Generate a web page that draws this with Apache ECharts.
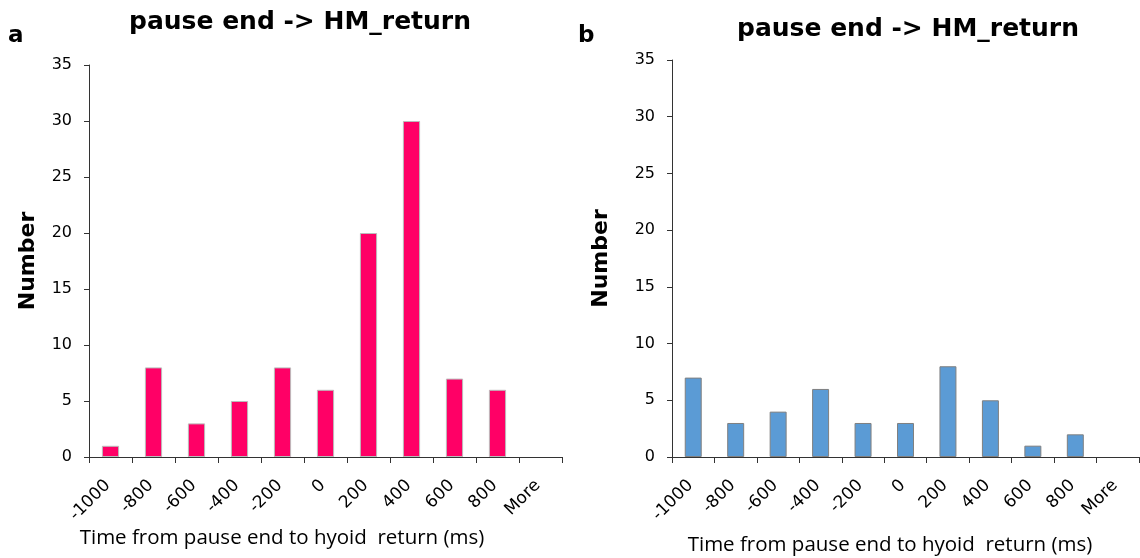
<!DOCTYPE html>
<html><head><meta charset="utf-8">
<script src="https://cdn.jsdelivr.net/npm/echarts@6/dist/echarts.min.js"></script>
<style>html,body{margin:0;padding:0;background:#fff}#c{width:1140px;height:558px}</style>
</head><body><div id="c"></div>
<script>
const categories = ['-1000','-800','-600','-400','-200','0','200','400','600','800','More'];
const valuesA = [1,8,3,5,8,6,20,30,7,6,0];
const valuesB = [7,3,4,6,3,3,8,5,1,2,0];
const yMax = 35, yStep = 5;
const titleText = 'pause end -> HM_return';
const xName = 'Time from pause end to hyoid  return (ms)';
const yName = 'Number';

const chart = echarts.init(document.getElementById('c'), null, {renderer:'canvas'});
const axisCol = '#333';
const xAxisBase = (gi) => ({
  type:'category', gridIndex:gi, data:categories,
  axisLine:{lineStyle:{color:axisCol,width:1}},
  axisTick:{show:true,alignWithLabel:false,length:6,lineStyle:{color:axisCol}},
  axisLabel:{rotate:45,fontSize:17,color:'#000',fontFamily:'DejaVu Sans',margin:23,padding:[0,4,0,0],interval:0}
});
const yAxisBase = (gi) => ({
  type:'value', gridIndex:gi, min:0, max:yMax, interval:yStep,
  splitLine:{show:false},
  axisLine:{show:true,lineStyle:{color:axisCol,width:1}},
  axisTick:{show:true,length:5,lineStyle:{color:axisCol}},
  axisLabel:{fontSize:16,color:'#000',fontFamily:'DejaVu Sans',margin:17}
});
const toBars = (arr) => arr.map(v => v === 0 ? {value:v,itemStyle:{opacity:0}} : v);
const titleStyle = {fontSize:25,fontWeight:'bold',fontFamily:'DejaVu Sans',color:'#000'};
const xNameStyle = {fontSize:20.5,fontWeight:'normal',fontFamily:'Open Sans',color:'#000'};
chart.setOption({
  animation:false,
  title:[
    {text:titleText,left:295,top:5,textAlign:'center',textStyle:titleStyle},
    {text:titleText,left:903,top:12,textAlign:'center',textStyle:titleStyle},
    {text:'a',left:3,top:20,textStyle:{fontSize:23,fontWeight:'bold',fontFamily:'DejaVu Sans',color:'#000'}},
    {text:'b',left:573,top:20,textStyle:{fontSize:23,fontWeight:'bold',fontFamily:'DejaVu Sans',color:'#000'}},
    {text:xName,left:277,top:523,textAlign:'center',textStyle:xNameStyle},
    {text:xName,left:885,top:530,textAlign:'center',textStyle:xNameStyle}
  ],
  grid:[
    {left:89,top:65,width:473,height:392},
    {left:672,top:60,width:467,height:397}
  ],
  xAxis:[xAxisBase(0),xAxisBase(1)],
  yAxis:[
    Object.assign(yAxisBase(0),{name:yName,nameLocation:'middle',nameGap:50,nameTextStyle:{fontSize:22,fontWeight:'bold',fontFamily:'DejaVu Sans',color:'#000'}}),
    Object.assign(yAxisBase(1),{name:yName,nameLocation:'middle',nameGap:60,nameTextStyle:{fontSize:22,fontWeight:'bold',fontFamily:'DejaVu Sans',color:'#000'}})
  ],
  series:[
    {type:'bar',xAxisIndex:0,yAxisIndex:0,data:toBars(valuesA),barWidth:'40%',
     itemStyle:{color:'#FF0066',borderColor:'#BBBBBB',borderWidth:1}},
    {type:'bar',xAxisIndex:1,yAxisIndex:1,data:toBars(valuesB),barWidth:'40%',
     itemStyle:{color:'#5B9BD5',borderColor:'#808080',borderWidth:1}}
  ]
});
</script></body></html>
